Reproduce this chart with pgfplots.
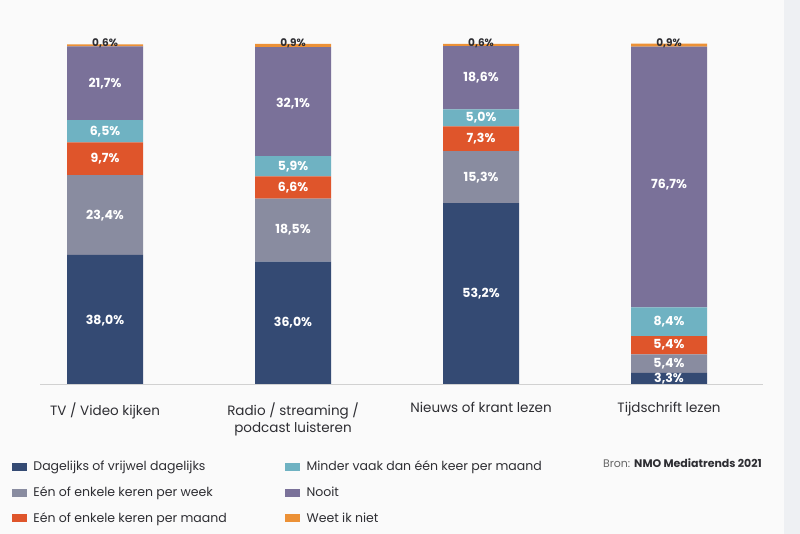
\documentclass[border=0pt]{standalone}
\usepackage{pgfplots}
\pgfplotsset{compat=1.18}
\usepackage{fontspec}
\setmainfont{Poppins}
\definecolor{cDag}{HTML}{344A73}
\definecolor{cWeek}{HTML}{898CA0}
\definecolor{cMaand}{HTML}{DF552B}
\definecolor{cMinder}{HTML}{6FB2C2}
\definecolor{cNooit}{HTML}{7A7199}
\definecolor{cWeet}{HTML}{EC9136}
\definecolor{bg}{HTML}{FAFAFA}
\definecolor{strip}{HTML}{EEF0F3}
\definecolor{txt}{HTML}{2E2E33}
\begin{document}
\begin{tikzpicture}[x=1pt,y=1pt]
\fill[bg] (0,0) rectangle (800,534);
\fill[strip] (784,0) rectangle (800,534);
\path[use as bounding box] (0,0) rectangle (800,534);
\begin{axis}[
  at={(40pt,150pt)}, anchor=south west,
  scale only axis, width=723pt, height=340pt,
  xmin=-0.346, xmax=3.5, ymin=0, ymax=100,
  ybar stacked, bar width=76pt,
  axis y line=none, axis x line*=bottom,
  x axis line style={draw=black!18, line width=0.8pt, -},
  xtick={0,1,2,3},
  xticklabels={TV / Video kijken, {Radio / streaming /\\podcast luisteren}, Nieuws of krant lezen, Tijdschrift lezen},
  xticklabel style={align=center, font=\fontsize{13.5}{17}\selectfont, text=txt, yshift=-15pt},
  major tick length=0pt,
  clip=false,
  legend columns=2,
  legend style={at={(axis description cs:-0.0387,-0.22)}, anchor=north west, draw=none, fill=none,
    font=\fontsize{12.5}{14}\selectfont, text=txt, row sep=10.5pt, inner sep=0pt},
  legend cell align=left,
]
\addplot[fill=cDag, draw=none, forget plot] coordinates {(0,38.0) (1,36.0) (2,53.2) (3,3.3)};
\addplot[fill=cWeek, draw=none, forget plot] coordinates {(0,23.4) (1,18.5) (2,15.3) (3,5.4)};
\addplot[fill=cMaand, draw=none, forget plot] coordinates {(0,9.7) (1,6.6) (2,7.3) (3,5.4)};
\addplot[fill=cMinder, draw=none, forget plot] coordinates {(0,6.5) (1,5.9) (2,5.0) (3,8.4)};
\addplot[fill=cNooit, draw=none, forget plot] coordinates {(0,21.7) (1,32.1) (2,18.6) (3,76.7)};
\addplot[fill=cWeet, draw=none, forget plot] coordinates {(0,0.6) (1,0.9) (2,0.6) (3,0.9)};
\addlegendimage{legend image code/.code={\fill[cDag] (0pt,-3.5pt) rectangle (14pt,3.5pt);\path[draw=none,fill=none] (0pt,0pt) -- (19pt,0pt);}}
\addlegendentry{\makebox[250pt][l]{Dagelijks of vrijwel dagelijks}}
\addlegendimage{legend image code/.code={\fill[cMinder] (0pt,-3.5pt) rectangle (14pt,3.5pt);\path[draw=none,fill=none] (0pt,0pt) -- (19pt,0pt);}}
\addlegendentry{Minder vaak dan één keer per maand}
\addlegendimage{legend image code/.code={\fill[cWeek] (0pt,-3.5pt) rectangle (14pt,3.5pt);\path[draw=none,fill=none] (0pt,0pt) -- (19pt,0pt);}}
\addlegendentry{\makebox[250pt][l]{Eén of enkele keren per week}}
\addlegendimage{legend image code/.code={\fill[cNooit] (0pt,-3.5pt) rectangle (14pt,3.5pt);\path[draw=none,fill=none] (0pt,0pt) -- (19pt,0pt);}}
\addlegendentry{Nooit}
\addlegendimage{legend image code/.code={\fill[cMaand] (0pt,-3.5pt) rectangle (14pt,3.5pt);\path[draw=none,fill=none] (0pt,0pt) -- (19pt,0pt);}}
\addlegendentry{\makebox[250pt][l]{Eén of enkele keren per maand}}
\addlegendimage{legend image code/.code={\fill[cWeet] (0pt,-3.5pt) rectangle (14pt,3.5pt);\path[draw=none,fill=none] (0pt,0pt) -- (19pt,0pt);}}
\addlegendentry{Weet ik niet}
% label anchors
\coordinate (a1) at (axis cs:0,18.6);
\coordinate (a2) at (axis cs:0,49.5);
\coordinate (a3) at (axis cs:0,66.2);
\coordinate (a4) at (axis cs:0,74.2);
\coordinate (a5) at (axis cs:0,88.4);
\coordinate (a6) at (axis cs:0,100.3);
\coordinate (b1) at (axis cs:1,18.0);
\coordinate (b2) at (axis cs:1,45.3);
\coordinate (b3) at (axis cs:1,57.8);
\coordinate (b4) at (axis cs:1,64.0);
\coordinate (b5) at (axis cs:1,82.5);
\coordinate (b6) at (axis cs:1,100.3);
\coordinate (c1) at (axis cs:2,26.6);
\coordinate (c2) at (axis cs:2,60.8);
\coordinate (c3) at (axis cs:2,72.1);
\coordinate (c4) at (axis cs:2,78.3);
\coordinate (c5) at (axis cs:2,90.1);
\coordinate (c6) at (axis cs:2,100.3);
\coordinate (d1) at (axis cs:3,1.5);
\coordinate (d2) at (axis cs:3,6.0);
\coordinate (d3) at (axis cs:3,11.4);
\coordinate (d4) at (axis cs:3,18.3);
\coordinate (d5) at (axis cs:3,58.5);
\coordinate (d6) at (axis cs:3,100.3);
\end{axis}
\tikzset{bl/.style={font=\bfseries\fontsize{12.5}{14}\selectfont, text=white, anchor=center, inner sep=0pt},
         tl/.style={font=\bfseries\fontsize{10.5}{12}\selectfont, text=txt, anchor=center, inner sep=0pt}}
\node[bl] at (a1) {38,0\%};
\node[bl] at (a2) {23,4\%};
\node[bl] at (a3) {9,7\%};
\node[bl] at (a4) {6,5\%};
\node[bl] at (a5) {21,7\%};
\node[tl] at (a6) {0,6\%};
\node[bl] at (b1) {36,0\%};
\node[bl] at (b2) {18,5\%};
\node[bl] at (b3) {6,6\%};
\node[bl] at (b4) {5,9\%};
\node[bl] at (b5) {32,1\%};
\node[tl] at (b6) {0,9\%};
\node[bl] at (c1) {53,2\%};
\node[bl] at (c2) {15,3\%};
\node[bl] at (c3) {7,3\%};
\node[bl] at (c4) {5,0\%};
\node[bl] at (c5) {18,6\%};
\node[tl] at (c6) {0,6\%};
\node[bl] at (d1) {3,3\%};
\node[bl] at (d2) {5,4\%};
\node[bl] at (d3) {5,4\%};
\node[bl] at (d4) {8,4\%};
\node[bl] at (d5) {76,7\%};
\node[tl] at (d6) {0,9\%};
\node[anchor=east, font=\fontsize{11}{12}\selectfont, inner sep=0pt] at (762pt,71pt) {\textcolor{black!60}{Bron:} \textcolor{txt}{\bfseries NMO Mediatrends 2021}};
\end{tikzpicture}
\end{document}
